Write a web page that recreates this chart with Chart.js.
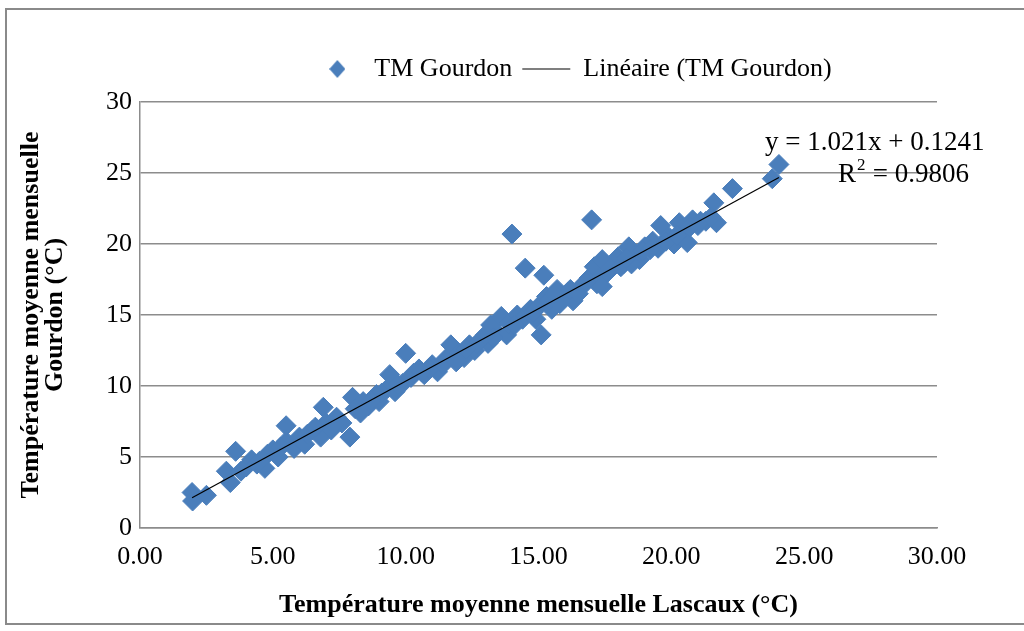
<!DOCTYPE html>
<html>
<head>
<meta charset="utf-8">
<script src="https://cdn.jsdelivr.net/npm/chart.js@4.4.1/dist/chart.umd.min.js"></script>
<style>
  html, body { margin: 0; padding: 0; background: #fff; }
  #wrap { position: relative; width: 1024px; height: 631px; overflow: hidden; }
  #frame { position: absolute; left: 5px; top: 8px; width: 1040px; height: 613px; border: 2px solid #8a8a8a; }
  canvas { position: absolute; left: 0; top: 0; }
</style>
</head>
<body>
<div id="wrap">
  <div id="frame"></div>
  <canvas id="myChart" width="1024" height="631"></canvas>
</div>
<script>
// data
const lascaux = [
  1.96, 1.98, 2.5, 3.25, 3.4, 3.6, 4.0, 4.2, 4.4, 4.7, 4.8, 5.0, 5.2, 5.5, 5.5, 5.8, 6.0, 6.2, 6.5, 6.8,
  6.9, 7.0, 7.2, 7.4, 7.6, 7.9, 8.0, 8.1, 8.4, 8.6, 8.9, 9.0, 9.3, 9.4, 9.6, 9.9, 10.0, 10.2, 10.5, 10.7,
  11.0, 11.2, 11.5, 11.7, 12.0, 12.2, 12.4, 12.6, 12.9, 13.1, 13.2, 13.4, 13.6, 13.8, 13.9, 14.0, 14.2, 14.4, 14.5, 14.7,
  14.9, 15.1, 15.1, 15.2, 15.3, 15.5, 15.7, 15.9, 16.1, 16.3, 16.6, 16.9, 17.0, 17.1, 17.2, 17.4, 17.6, 17.8, 18.0, 18.2,
  18.4, 18.6, 18.8, 19.0, 19.3, 19.5, 19.6, 19.9, 20.1, 20.3, 20.5, 20.6, 20.8, 21.0, 21.3, 21.6, 21.7, 22.3, 23.8, 24.05,
  6.3, 5.3, 6.6, 7.3, 8.3, 9.1, 9.7, 10.3, 10.9, 11.4, 11.9, 12.7, 13.3, 14.1, 14.8, 15.4, 15.8, 16.2, 16.5, 17.3,
  17.7, 18.1, 18.5, 18.9, 19.2, 19.8, 20.2, 20.7, 21.1, 21.5, 4.5, 3.8, 12.3, 8.7, 10.6, 16.8, 18.3, 17.4, 15.6, 13.0
];
const gourdon = [
  2.5, 1.9, 2.3, 4.0, 3.2, 5.4, 4.3, 4.8, 4.5, 4.2, 5.2, 5.5, 5.0, 6.1, 7.2, 5.6, 6.4, 5.9, 6.9, 6.4,
  8.5, 7.4, 6.9, 7.8, 7.4, 6.4, 9.2, 8.4, 8.9, 8.6, 9.4, 8.9, 9.8, 10.8, 9.6, 10.2, 12.3, 10.6, 11.2, 10.8,
  11.5, 11.0, 11.9, 12.9, 12.3, 12.0, 12.9, 12.5, 13.4, 13.0, 14.3, 13.8, 14.9, 13.6, 14.4, 20.7, 15.0, 14.7, 18.3, 15.4,
  14.7, 13.6, 15.8, 17.8, 16.3, 15.4, 16.8, 16.2, 16.6, 16.0, 17.0, 17.6, 21.7, 18.4, 17.2, 18.9, 18.0, 18.4, 19.1, 18.6,
  19.8, 19.2, 18.9, 19.8, 20.2, 19.7, 21.3, 20.5, 20.0, 21.5, 21.0, 20.1, 21.7, 21.3, 21.6, 22.9, 21.5, 23.9, 24.6, 25.6,
  6.6, 5.7, 7.1, 7.3, 8.1, 9.5, 10.1, 10.9, 11.2, 11.5, 11.7, 13.0, 13.4, 14.3, 15.2, 16.0, 15.8, 16.8, 16.5, 17.6,
  18.3, 18.4, 18.6, 19.5, 19.6, 20.2, 20.6, 21.2, 21.6, 21.9, 4.7, 4.0, 12.6, 9.0, 11.0, 17.3, 19.0, 17.0, 16.5, 13.6
];
const xTickLabels = ['0.00', '5.00', '10.00', '15.00', '20.00', '25.00', '30.00'];
const yTickLabels = ['0', '5', '10', '15', '20', '25', '30'];
// trendline shown on the chart
const slope = 1.021;
const intercept = 0.1241;
const equationText = 'y = 1.021x + 0.1241';
const r2Text = '0.9806';

const blue = '#4a7ebb';
const serif = "'Liberation Serif', 'Times New Roman', serif";

const points = lascaux.map((x, i) => ({ x: x, y: gourdon[i] }));
const xMin = Math.min(...lascaux);
const xMax = Math.max(...lascaux);
const trend = [
  { x: xMin, y: slope * xMin + intercept },
  { x: xMax, y: slope * xMax + intercept }
];

// small diamond for the legend
const diamond = document.createElement('canvas');
diamond.width = 16;
diamond.height = 18;
const dctx = diamond.getContext('2d');
dctx.fillStyle = blue;
dctx.beginPath();
dctx.moveTo(8, 0);
dctx.lineTo(16, 9);
dctx.lineTo(8, 18);
dctx.lineTo(0, 9);
dctx.closePath();
dctx.fill();

// legend: a bit more room under it, and moved right like the original
const legendTweak = {
  id: 'legendTweak',
  afterInit(chart) {
    const fit = chart.legend.fit;
    chart.legend.fit = function () {
      fit.call(this);
      this.height += 12;
    };
  },
  afterLayout(chart) {
    chart.legend.left += 100;
    chart.legend.right += 100;
    chart.legend.top += 2;
  }
};

// equation label next to the end of the trendline
const equationPlugin = {
  id: 'equation',
  afterDraw(chart) {
    const ctx = chart.ctx;
    const area = chart.chartArea;
    ctx.save();
    ctx.fillStyle = '#000';
    ctx.textBaseline = 'alphabetic';
    ctx.font = '27px ' + serif;
    ctx.textAlign = 'left';
    ctx.fillText(equationText, area.right - 172, 150);
    const rx = area.right - 99;
    ctx.fillText('R', rx, 182);
    const rw = ctx.measureText('R').width;
    ctx.font = '17px ' + serif;
    ctx.fillText('2', rx + rw + 1, 170);
    ctx.font = '27px ' + serif;
    ctx.fillText(' = ' + r2Text, rx + rw + 10, 182);
    ctx.restore();
  }
};

const data = {
  datasets: [{
    label: 'TM Gourdon',
    type: 'scatter',
    data: points,
    pointStyle: 'rectRot',
    pointRadius: 10,
    pointHoverRadius: 10,
    backgroundColor: blue,
    borderColor: blue,
    borderWidth: 1,
    order: 2
  }, {
    label: 'Linéaire (TM Gourdon)',
    type: 'line',
    data: trend,
    borderColor: '#000',
    borderWidth: 1.2,
    pointRadius: 0,
    pointStyle: 'line',
    fill: false,
    order: 1
  }]
};

const config = {
  type: 'scatter',
  data,
  options: {
    responsive: false,
    animation: false,
    layout: { padding: { top: 44, left: 8, right: 87, bottom: 6 } },
    plugins: {
      tooltip: { enabled: false },
      legend: {
        position: 'top',
        labels: {
          usePointStyle: true,
          pointStyleWidth: 48,
          boxHeight: 16,
          padding: 10,
          color: '#000',
          font: { family: serif, size: 26 },
          sort: (a, b) => a.datasetIndex - b.datasetIndex,
          generateLabels(chart) {
            const items = Chart.defaults.plugins.legend.labels.generateLabels(chart);
            items.forEach((it) => {
              if (it.datasetIndex === 0) {
                it.pointStyle = diamond;
              } else {
                it.pointStyle = 'line';
                it.strokeStyle = '#000';
                it.lineWidth = 1.2;
              }
            });
            return items;
          }
        }
      }
    },
    scales: {
      x: {
        type: 'linear',
        min: 0,
        max: 30,
        afterFit(scale) { scale.height = 97; },
        ticks: {
          stepSize: 5,
          color: '#000',
          padding: 14,
          font: { family: serif, size: 26 },
          callback: (v) => xTickLabels[Math.round(v / 5)]
        },
        grid: { display: false, drawTicks: false },
        border: { display: true, color: '#8c8c8c', width: 1.5 },
        title: {
          display: true,
          text: 'Température moyenne mensuelle Lascaux (°C)',
          color: '#000',
          font: { family: serif, size: 26, weight: 'bold' },
          padding: { top: 9 }
        }
      },
      y: {
        type: 'linear',
        min: 0,
        max: 30,
        afterFit(scale) { scale.width = 132; },
        ticks: {
          stepSize: 5,
          color: '#000',
          padding: 8,
          font: { family: serif, size: 26 },
          callback: (v) => yTickLabels[Math.round(v / 5)]
        },
        grid: { color: '#8c8c8c', lineWidth: 1.5, drawTicks: false },
        border: { display: true, color: '#8c8c8c', width: 1.5 },
        title: {
          display: true,
          text: ['Température moyenne mensuelle', 'Gourdon (°C)'],
          color: '#000',
          font: { family: serif, size: 26, weight: 'bold', lineHeight: 0.92 },
          padding: { top: 11, bottom: 0 }
        }
      }
    }
  },
  plugins: [legendTweak, equationPlugin]
};

const myChart = new Chart(document.getElementById('myChart'), config);
</script>
</body>
</html>
